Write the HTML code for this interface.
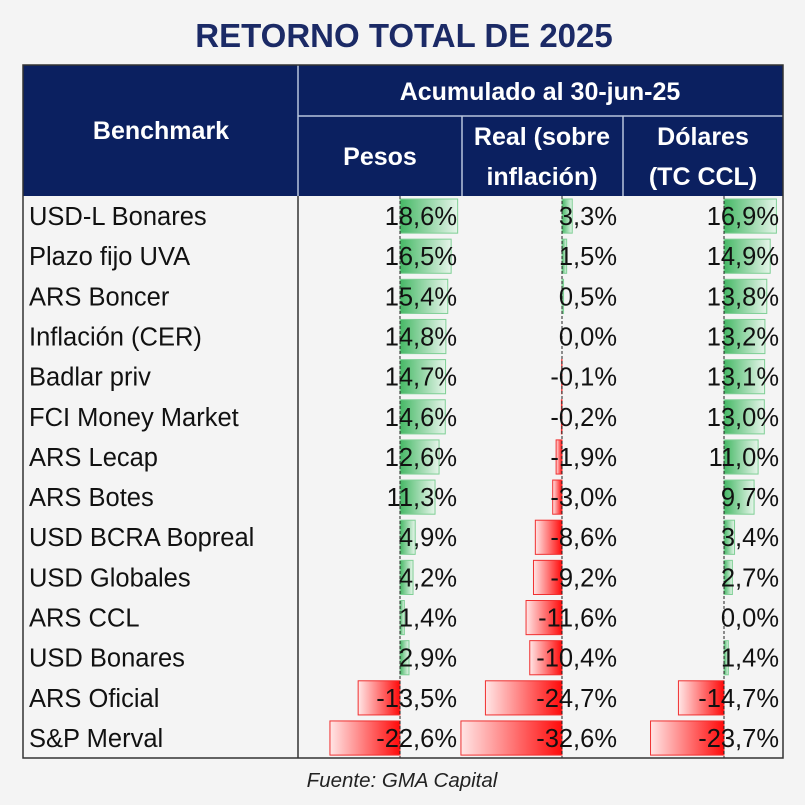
<!DOCTYPE html>
<html><head><meta charset="utf-8"><style>
body{margin:0;background:#f4f4f4;width:805px;height:800px;overflow:hidden;font-family:"Liberation Sans",sans-serif;}
</style></head><body>
<svg width="805" height="800" xmlns="http://www.w3.org/2000/svg">
<defs>
<linearGradient id="gg" x1="0" x2="1"><stop offset="0" stop-color="#45b865"/><stop offset="1" stop-color="#e6f5ea"/></linearGradient>
<linearGradient id="rg" x1="0" x2="1"><stop offset="0" stop-color="#ffe6e6"/><stop offset="1" stop-color="#ff0a0a"/></linearGradient>
</defs>
<rect width="805" height="800" fill="#f4f4f4"/>
<text x="404" y="47" text-anchor="middle" font-size="33" font-weight="bold" fill="#1b2a66">RETORNO TOTAL DE 2025</text>
<rect x="23" y="65" width="760" height="131" fill="#0b2060"/>
<g stroke="#b8c4dc" stroke-width="1.5">
<line x1="298" y1="65" x2="298" y2="196"/>
<line x1="298" y1="116" x2="783" y2="116"/>
<line x1="462" y1="116" x2="462" y2="196"/>
<line x1="623" y1="116" x2="623" y2="196"/>
</g>
<g fill="#fff" font-size="25" font-weight="bold" text-anchor="middle">
<text x="161" y="139">Benchmark</text>
<text x="540" y="100">Acumulado al 30-jun-25</text>
<text x="380" y="165">Pesos</text>
<text x="542" y="145">Real (sobre</text>
<text x="542" y="185">inflación)</text>
<text x="703" y="145">Dólares</text>
<text x="703" y="185">(TC CCL)</text>
</g>
<g id="body"></g>
<rect x="23" y="65" width="760" height="693" fill="none" stroke="#333" stroke-width="1.5"/>
<line x1="298" y1="196" x2="298" y2="758" stroke="#333" stroke-width="1.5"/>
<text x="402" y="787" text-anchor="middle" font-size="20.5" font-style="italic" fill="#222">Fuente: GMA Capital</text>
</svg>
<script>
const categories=["USD-L Bonares","Plazo fijo UVA","ARS Boncer","Inflación (CER)","Badlar priv","FCI Money Market","ARS Lecap","ARS Botes","USD BCRA Bopreal","USD Globales","ARS CCL","USD Bonares","ARS Oficial","S&P Merval"];
const pesos=[18.6,16.5,15.4,14.8,14.7,14.6,12.6,11.3,4.9,4.2,1.4,2.9,-13.5,-22.6];
const real=[3.3,1.5,0.5,0.0,-0.1,-0.2,-1.9,-3.0,-8.6,-9.2,-11.6,-10.4,-24.7,-32.6];
const dolares=[16.9,14.9,13.8,13.2,13.1,13.0,11.0,9.7,3.4,2.7,0.0,1.4,-14.7,-23.7];
const NS="http://www.w3.org/2000/svg";
const g=document.getElementById('body');
const top0=196,rowH=40.15,scale=3.1;
const cols=[{data:pesos,axis:400,right:457,name:'pesos'},{data:real,axis:562,right:617,name:'real'},{data:dolares,axis:724,right:779,name:'dolares'}];
function mk(t,a){const e=document.createElementNS(NS,t);for(const k in a)e.setAttribute(k,a[k]);g.appendChild(e);return e;}
const fmt=v=>v.toFixed(1).replace('.',',')+'%';
categories.forEach((c,i)=>{
  const y=top0+i*rowH;
  const t=mk('text',{x:29,y:y+29,'font-size':25.5,fill:'#111'});t.textContent=c;
  
  
});
cols.forEach(col=>{
  col.data.forEach((v,i)=>{
    const y=top0+i*rowH;
    const w=Math.abs(v)*scale;
    if(w>0){
      const r=mk('rect',{x:v>=0?col.axis:col.axis-w,y:y+3,width:w,height:rowH-6,fill:v>=0?'url(#gg)':'url(#rg)',stroke:v>=0?'#7fcf95':'#f03030','stroke-width':1});
      
      
    }
  });
  const l=mk('line',{x1:col.axis,y1:top0,x2:col.axis,y2:758,stroke:'#222','stroke-width':1,'stroke-dasharray':'3,2'});
  
  
  col.data.forEach((v,i)=>{
    const y=top0+i*rowH;
    const t=mk('text',{x:col.right,y:y+29,'font-size':25.5,fill:'#111','text-anchor':'end'});
    t.textContent=fmt(v);
    
    
  });
});
</script>
</body></html>
